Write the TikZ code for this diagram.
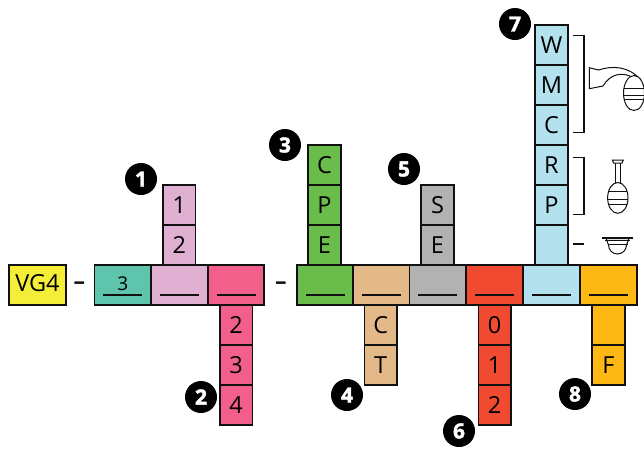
\documentclass[tikz,border=0pt]{standalone}
\usepackage{fontspec}
\setmainfont{Open Sans}
\newfontfamily\sepfont{PT Sans}
\newfontfamily\badgefont[BoldFeatures={FakeBold=2}]{Open Sans}
\definecolor{cYellow}{HTML}{F5EE38}
\definecolor{cTeal}{HTML}{5EC4AB}
\definecolor{cPink}{HTML}{E0B0D3}
\definecolor{cRose}{HTML}{F15F8A}
\definecolor{cGreen}{HTML}{6BBD4B}
\definecolor{cTan}{HTML}{E4B98A}
\definecolor{cGray}{HTML}{B2B2B2}
\definecolor{cRed}{HTML}{F04A30}
\definecolor{cBlue}{HTML}{B3E1EE}
\definecolor{cOrange}{HTML}{FDB816}
\definecolor{cInk}{HTML}{111111}
\tikzset{
  x=1pt,y=-1pt,
  boxbase/.style={draw=cInk,line width=1.8pt,inner sep=0pt,outer sep=0pt,text=black,align=center,
     font=\fontsize{23.5}{23.5}\selectfont,text height=16.5pt,text depth=0pt},
  cell/.style={boxbase,minimum width=32.5pt,minimum height=40pt},
  head/.style={boxbase,minimum width=56.5pt,minimum height=39.5pt},
  badge/.style={circle,fill=black,text=white,inner sep=0pt,outer sep=0pt,minimum size=32pt,
     font=\badgefont\bfseries\fontsize{21}{21}\selectfont},
  uline/.style={draw=cInk,line width=1.8pt},
  sep/.style={inner sep=0pt,outer sep=0pt,text=cInk,font=\sepfont\bfseries\fontsize{22}{22}\selectfont},
  icon/.style={draw=cInk,line width=1pt,fill=white},
  iconline/.style={draw=cInk,line width=1pt},
  brack/.style={draw=cInk,line width=1.4pt},
}
\newcommand{\uln}[1]{\draw[uline] ([xshift=-19.5pt,yshift=10pt]#1.south) -- ([xshift=19.5pt,yshift=10pt]#1.south);}
\begin{document}
\begin{tikzpicture}
\useasboundingbox (0,0) rectangle (644,448);
% columns
\node[cell,fill=cPink] (pa) at (179.3,205) {1};
\node[cell,fill=cPink] (pb) at (179.3,245) {2};
\node[cell,fill=cRose] (ra) at (236.2,325) {2};
\node[cell,fill=cRose] (rb) at (236.2,365) {3};
\node[cell,fill=cRose] (rc) at (236.2,405) {4};
\node[cell,fill=cGreen] (ga) at (324.5,165) {C};
\node[cell,fill=cGreen] (gb) at (324.5,205) {P};
\node[cell,fill=cGreen] (gc) at (324.5,245) {E};
\node[cell,fill=cTan] (ta) at (380.7,325) {C};
\node[cell,fill=cTan] (tb) at (380.7,365) {T};
\node[cell,fill=cGray] (sa) at (437.5,205) {S};
\node[cell,fill=cGray] (sb) at (437.5,245) {E};
\node[cell,fill=cRed] (da) at (494.7,325) {0};
\node[cell,fill=cRed] (db) at (494.7,365) {1};
\node[cell,fill=cRed] (dc) at (494.7,405) {2};
\node[cell,fill=cBlue] (ba) at (551.5,45) {W};
\node[cell,fill=cBlue] (bb) at (551.5,85) {M};
\node[cell,fill=cBlue] (bc) at (551.5,125) {C};
\node[cell,fill=cBlue] (bd) at (551.5,165) {R};
\node[cell,fill=cBlue] (be) at (551.5,205) {P};
\node[cell,fill=cBlue] (bf) at (551.5,245) {};
\node[cell,fill=cOrange] (oa) at (608.5,325) {};
\node[cell,fill=cOrange] (ob) at (608.5,365) {F};
% main row
\node[boxbase,fill=cYellow,minimum width=57pt,minimum height=39.5pt] (vg) at (37.5,285) {\raisebox{1.5pt}{VG4}};
\node[head,fill=cTeal,font=\fontsize{19}{19}\selectfont,text height=14pt] (h1) at (122.8,285) {\raisebox{2pt}{3}};
\node[head,fill=cPink] (h2) at (179.5,285) {};
\node[head,fill=cRose] (h3) at (236,285) {};
\node[head,fill=cGreen] (h4) at (325,285) {};
\node[head,fill=cTan] (h5) at (381.3,285) {};
\node[head,fill=cGray] (h6) at (437.8,285) {};
\node[head,fill=cRed] (h7) at (494.7,285) {};
\node[head,fill=cBlue] (h8) at (551.7,285) {};
\node[head,fill=cOrange] (h9) at (608.7,285) {};
\uln{h1}\uln{h2}\uln{h3}\uln{h4}\uln{h5}\uln{h6}\uln{h7}\uln{h8}\uln{h9}
% separators
\node[sep] (s1) at (79.5,285.5) {–};
\node[sep] (s2) at (281,285.5) {–};
% badges
\node[badge] (n1) at (141,179) {1};
\node[badge] (n2) at (201,397) {2};
\node[badge] (n3) at (285,145) {3};
\node[badge] (n4) at (347,395) {4};
\node[badge] (n5) at (404,169) {5};
\node[badge] (n6) at (459,431) {6};
\node[badge] (n7) at (515,24) {7};
\node[badge] (n8) at (575,394) {8};
% brackets
\draw[brack] (573.3,35.7) -- (584,35.7) -- (584,132.7) -- (573.3,132.7);
\draw[brack] (573.3,157.3) -- (584,157.3) -- (584,214.7) -- (573.3,214.7);
\draw[brack] (573.3,244) -- (584,244);
% wall camera
\begin{scope}
\clip (585,60) rectangle (644,115);
\draw[icon] (589.3,67.7) -- (598.5,70) .. controls (612,65.5) and (628,66) .. (640,79)
  -- (634,78) .. controls (622,71) and (610,74) .. (603,86) -- (589.3,88.7) -- cycle;
\draw[icon] (634,75.5) .. controls (628,75.5) and (623.5,84) .. (623.5,93)
  .. controls (623.5,103) and (628,110.5) .. (634,110.5)
  .. controls (640,110.5) and (644.5,103) .. (644.5,93)
  .. controls (644.5,84) and (640,75.5) .. (634,75.5) -- cycle;
\draw[iconline] (624,88.5) -- (644,88.5);
\draw[iconline] (623.7,95.5) -- (644,95.5);
\draw[iconline] (623.9,99.5) -- (644,99.5);
\end{scope}
% pendant camera
\draw[icon] (615.2,162.5) rectangle (620.3,184);
\draw[icon] (612.3,160) -- (623.3,160) -- (622,163) -- (613.6,163) -- cycle;
\draw[icon] (617.8,197.9) ellipse [x radius=10.2pt,y radius=15.4pt];
\draw[iconline] (607.8,199.2) -- (627.8,199.2);
\draw[iconline] (608.2,204) -- (627.4,204);
\draw[iconline] (608.2,191) -- (627.4,191);
% ceiling dome
\draw[icon] (606,238.5) -- (608.5,245) arc[start angle=180,end angle=360,x radius=9pt,y radius=9pt] -- (629,238.5) -- cycle;
\draw[draw=cInk,line width=1.4pt] (602.3,238) -- (632.7,238);
\draw[iconline] (605,240.5) -- (630,240.5);
\draw[iconline] (607.5,244.5) -- (627.5,244.5);
\end{tikzpicture}
\end{document}
